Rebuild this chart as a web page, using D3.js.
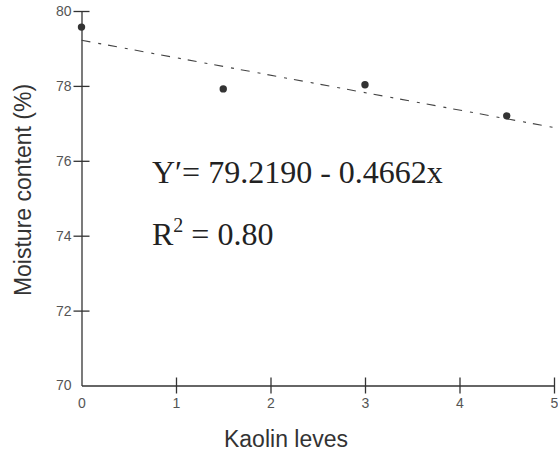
<html>
<head>
<style>
  body { margin: 0; background: #fff; }
  .axis path, .axis line { stroke: #333; stroke-width: 1.3; }
  .axis text { font: 14px "Liberation Sans", Arial, sans-serif; fill: #555; }
  .title { font: 23px "Liberation Sans", Arial, sans-serif; fill: #333; }
  .eq { font: 32px "Liberation Serif", "Times New Roman", serif; fill: #222; }
</style>
</head>
<body>
<svg id="chart" width="558" height="454"></svg>
<script src="https://d3js.org/d3.v7.min.js"></script>
<script>
// data
var kaolin = [0, 1.5, 3, 4.5];
var moisture = [79.57, 77.92, 78.03, 77.2];
var xTicks = [0, 1, 2, 3, 4, 5];
var yTicks = [70, 72, 74, 76, 78, 80];
// fitted line from the printed equation
var intercept = 79.2190, slope = -0.4662;

var svg = d3.select('#chart');

var x = d3.scaleLinear().domain([0, 5]).range([81.5, 554]);
var y = d3.scaleLinear().domain([70, 80]).range([385.5, 11]);

// x axis
var gx = svg.append('g')
  .attr('class', 'axis')
  .attr('transform', 'translate(0,' + y(70) + ')')
  .call(d3.axisBottom(x).tickValues(xTicks).tickFormat(d3.format('d'))
    .tickSize(8).tickSizeOuter(0).tickPadding(5));
gx.selectAll('.tick line').attr('y1', -8).attr('y2', 8)
  .style('display', function(d){ return d === 0 ? 'none' : null; });

// y axis
var gy = svg.append('g')
  .attr('class', 'axis')
  .attr('transform', 'translate(' + x(0) + ',0)')
  .call(d3.axisLeft(y).tickValues(yTicks).tickFormat(d3.format('d'))
    .tickSize(8).tickSizeOuter(0).tickPadding(2));
gy.selectAll('.tick line').attr('x1', -8).attr('x2', 8)
  .style('display', function(d){ return d === 70 ? 'none' : null; });

// trend line
svg.append('line')
  .attr('x1', x(0)).attr('y1', y(intercept))
  .attr('x2', x(5)).attr('y2', y(intercept + slope * 5))
  .attr('stroke', '#444')
  .attr('stroke-width', 1.1)
  .attr('stroke-dasharray', '9,8,3,7');

// points
svg.selectAll('circle.pt')
  .data(kaolin)
  .enter()
  .append('circle')
  .attr('class', 'pt')
  .attr('cx', function(d){ return x(d); })
  .attr('cy', function(d, i){ return y(moisture[i]); })
  .attr('r', 3.7)
  .attr('fill', '#333');

// titles
svg.append('text')
  .attr('class', 'title')
  .attr('x', 286).attr('y', 447)
  .attr('text-anchor', 'middle')
  .text('Kaolin leves');

svg.append('text')
  .attr('class', 'title')
  .attr('transform', 'translate(31,190) rotate(-90)')
  .attr('text-anchor', 'middle')
  .text('Moisture content (%)');

// equation
svg.append('text')
  .attr('class', 'eq')
  .attr('x', 152).attr('y', 183)
  .text('Y\u2032= 79.2190 - 0.4662x');

var r2 = svg.append('text')
  .attr('class', 'eq')
  .attr('x', 152).attr('y', 245);
r2.append('tspan').text('R');
r2.append('tspan').attr('font-size', '20px').attr('dy', -13).text('2');
r2.append('tspan').attr('dy', 13).text(' = 0.80');
</script>
</body>
</html>
